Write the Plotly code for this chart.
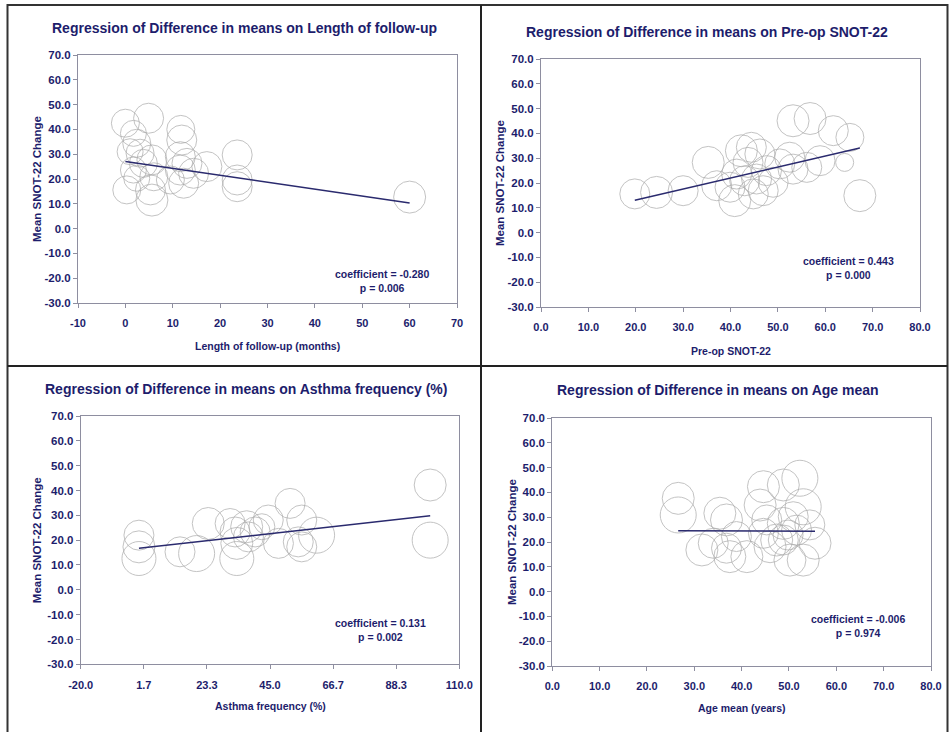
import plotly.graph_objects as go

W, H = 949, 732

# ---------------- data ----------------
# Panel 1: Length of follow-up (months)
fu_x = [0.0, 4.9, 1.7, 11.7, 11.9, 2.4, 1.0, 3.1, 5.6, 11.6, 13.0, 17.2, 23.6, 23.6, 23.6,
        1.7, 2.4, 0.3, 5.3, 5.6, 11.6, 12.3, 9.5, 6.0, 14.4, 3.8, 60.0]
fu_y = [42.5, 44.5, 38.4, 40.0, 35.7, 34.4, 31.0, 30.4, 27.7, 29.0, 26.3, 25.0, 29.7, 19.6, 16.9,
        23.6, 20.3, 15.6, 15.6, 11.5, 23.6, 18.3, 19.6, 20.9, 22.3, 26.3, 12.7]
fu_w = [28, 30, 26, 28, 30, 28, 26, 28, 30, 30, 30, 30, 30, 30, 30,
        26, 26, 28, 30, 32, 30, 30, 28, 28, 30, 28, 32]
fu_coef, fu_int, fu_p = -0.280, 27.1, "0.006"

# Panel 2: Pre-op SNOT-22
pre_x = [19.8, 24.4, 30.0, 35.3, 37.1, 40.9, 42.3, 44.4, 43.7, 41.3, 43.0, 45.5, 47.6, 46.9, 49.0,
         39.9, 53.2, 56.8, 61.7, 65.2, 52.5, 56.1, 58.9, 64.1, 53.2, 67.3, 44.8, 50.4, 46.2]
pre_y = [15.6, 16.2, 16.9, 28.3, 18.9, 12.9, 33.0, 34.4, 28.3, 23.6, 20.9, 21.6, 25.0, 16.9, 20.3,
         18.3, 45.1, 46.0, 41.1, 38.4, 30.4, 26.3, 29.0, 28.3, 25.6, 14.9, 15.6, 27.7, 31.7]
pre_w = [30, 32, 30, 32, 30, 32, 32, 30, 30, 30, 30, 30, 30, 30, 30,
         30, 32, 32, 30, 28, 30, 30, 30, 18, 30, 32, 30, 30, 30]
pre_coef, pre_int, pre_p = 0.443, 4.3, "0.000"

# Panel 3: Asthma frequency (%)
ast_x = [0.0, 0.0, 0.0, 14.1, 19.8, 23.8, 31.3, 33.0, 37.0, 33.6, 33.6, 39.9, 42.2, 44.4, 51.9,
         55.9, 47.9, 54.7, 55.9, 61.0, 100.0, 100.0, 37.6]
ast_y = [22.0, 17.3, 12.6, 15.3, 14.6, 26.7, 26.7, 23.3, 25.4, 18.7, 12.6, 23.3, 25.4, 28.1, 34.8,
         28.1, 18.7, 19.3, 17.3, 22.0, 42.2, 20.0, 21.3]
ast_w = [30, 32, 34, 30, 36, 32, 30, 30, 32, 32, 34, 30, 26, 30, 30,
         30, 30, 30, 30, 36, 32, 36, 30]
ast_coef, ast_int, ast_p = 0.131, 16.7, "0.002"

# Panel 4: Age mean (years)
age_x = [26.6, 26.6, 35.4, 36.8, 31.6, 36.8, 37.5, 41.1, 38.9, 44.6, 43.9, 48.8, 52.3, 53.0,
         45.3, 48.8, 47.4, 49.8, 51.6, 46.0, 50.2, 53.0, 55.5, 54.4, 48.8, 44.6, 34.0, 50.9]
age_y = [37.6, 30.9, 31.6, 28.9, 16.8, 17.5, 14.1, 14.1, 22.2, 42.3, 34.9, 43.0, 45.7, 34.2,
         28.9, 27.5, 20.8, 22.8, 24.8, 18.1, 12.7, 12.7, 19.5, 26.9, 20.8, 23.5, 19.5, 30.2]
age_w = [32, 36, 32, 32, 32, 30, 32, 32, 30, 32, 32, 32, 36, 36,
         30, 32, 32, 30, 30, 32, 32, 32, 32, 30, 30, 30, 30, 30]
age_coef, age_int, age_p = -0.006, 24.7, "0.974"

y_range = [-30, 70]

# ---------------- styling ----------------
NAVY = "#1d1d6c"
GRID = "#8e8ea0"
BUB = "#ababab"
FONT = "Liberation Sans, Arial, sans-serif"

def px2x(px):
    return px / W

def px2y(py):
    return 1 - py / H

panels = [
    dict(x=fu_x, y=fu_y, w=fu_w, coef=fu_coef, icpt=fu_int, p=fu_p,
         title="Regression of Difference in means on Length of follow-up",
         xtitle="Length of follow-up (months)",
         xr=[-10, 70], tickvals=list(range(-10, 71, 10)), fmt="{:.0f}",
         box=(78, 55, 457, 303), title_xy=(244, 28), ytitle_x=37,
         xtitle_y=346, ann_xy=(382, 281)),
    dict(x=pre_x, y=pre_y, w=pre_w, coef=pre_coef, icpt=pre_int, p=pre_p,
         title="Regression of Difference in means on Pre-op SNOT-22",
         xtitle="Pre-op SNOT-22",
         xr=[0, 80], tickvals=list(range(0, 81, 10)), fmt="{:.1f}",
         box=(541, 59, 920, 307), title_xy=(707, 32), ytitle_x=500,
         xtitle_y=351, ann_xy=(848, 268)),
    dict(x=ast_x, y=ast_y, w=ast_w, coef=ast_coef, icpt=ast_int, p=ast_p,
         title="Regression of Difference in means on Asthma frequency (%)",
         xtitle="Asthma frequency (%)",
         xr=[-20, 110], tickvals=[-20 + k * 130 / 6 for k in range(7)], fmt="{:.1f}",
         box=(80.7, 416, 459.3, 664.3), title_xy=(246, 389), ytitle_x=37,
         xtitle_y=706, ann_xy=(380, 630)),
    dict(x=age_x, y=age_y, w=age_w, coef=age_coef, icpt=age_int, p=age_p,
         title="Regression of Difference in means on Age mean",
         xtitle="Age mean (years)",
         xr=[0, 80], tickvals=list(range(0, 81, 10)), fmt="{:.1f}",
         box=(552.3, 418, 931, 666), title_xy=(718, 390), ytitle_x=512,
         xtitle_y=708, ann_xy=(858, 626)),
]

fig = go.Figure()
annotations = []
layout_axes = {}

for i, pn in enumerate(panels, start=1):
    xa = "x" if i == 1 else f"x{i}"
    ya = "y" if i == 1 else f"y{i}"
    x0, y0, x1, y1 = pn["box"]
    fig.add_trace(go.Scatter(
        x=pn["x"], y=pn["y"], mode="markers", xaxis=xa, yaxis=ya,
        marker=dict(size=pn["w"], sizemode="diameter", color="rgba(0,0,0,0)",
                    line=dict(color=BUB, width=1)),
        hoverinfo="x+y", showlegend=False))
    xmin, xmax = min(pn["x"]), max(pn["x"])
    fig.add_trace(go.Scatter(
        x=[xmin, xmax], y=[pn["icpt"] + pn["coef"] * xmin, pn["icpt"] + pn["coef"] * xmax],
        mode="lines", xaxis=xa, yaxis=ya, line=dict(color="#2a2a6e", width=1.5),
        hoverinfo="skip", showlegend=False))

    axis_common = dict(showgrid=False, zeroline=False, showline=True, linecolor=GRID,
                       linewidth=1, mirror=True, ticks="outside", ticklen=4,
                       tickcolor=GRID, tickwidth=1, automargin=False)
    layout_axes["xaxis" if i == 1 else f"xaxis{i}"] = dict(
        axis_common, domain=[px2x(x0), px2x(x1)], range=pn["xr"], anchor=ya,
        tickvals=pn["tickvals"], ticktext=[pn["fmt"].format(v) for v in pn["tickvals"]],
        tickfont=dict(family=FONT, size=11, color=NAVY, weight="bold"), ticklabelstandoff=6)
    layout_axes["yaxis" if i == 1 else f"yaxis{i}"] = dict(
        axis_common, domain=[px2y(y1), px2y(y0)], range=y_range, anchor=xa,
        tickvals=list(range(-30, 71, 10)),
        ticktext=[f"{v:.1f}" for v in range(-30, 71, 10)],
        tickfont=dict(family=FONT, size=11.5, color=NAVY, weight="bold"))

    annotations.append(dict(text=f"<b>{pn['title']}</b>", xref="paper", yref="paper",
                            x=px2x(pn["title_xy"][0]), y=px2y(pn["title_xy"][1]),
                            xanchor="center", yanchor="middle", showarrow=False,
                            font=dict(family=FONT, size=14, color=NAVY)))
    annotations.append(dict(text=f"<b>{pn['xtitle']}</b>", xref="paper", yref="paper",
                            x=px2x((x0 + x1) / 2), y=px2y(pn["xtitle_y"]),
                            xanchor="center", yanchor="middle", showarrow=False,
                            font=dict(family=FONT, size=10.5, color=NAVY)))
    annotations.append(dict(text="<b>Mean SNOT-22 Change</b>", xref="paper", yref="paper",
                            x=px2x(pn["ytitle_x"]), y=px2y((y0 + y1) / 2), textangle=-90,
                            xanchor="center", yanchor="middle", showarrow=False,
                            font=dict(family=FONT, size=11.5, color=NAVY)))
    annotations.append(dict(text=f"<b>coefficient = {pn['coef']:.3f}<br>p = {pn['p']}</b>",
                            xref="paper", yref="paper",
                            x=px2x(pn["ann_xy"][0]), y=px2y(pn["ann_xy"][1]),
                            xanchor="center", yanchor="middle", showarrow=False, align="center",
                            font=dict(family=FONT, size=10.5, color=NAVY)))

shapes = [
    dict(type="rect", xref="paper", yref="paper", x0=px2x(7.5), x1=px2x(947.5),
         y0=px2y(740), y1=px2y(5), line=dict(color="#333333", width=2)),
    dict(type="line", xref="paper", yref="paper", x0=px2x(481), x1=px2x(481),
         y0=px2y(740), y1=px2y(5), line=dict(color="#222222", width=2)),
    dict(type="line", xref="paper", yref="paper", x0=px2x(7.5), x1=px2x(947.5),
         y0=px2y(366), y1=px2y(366), line=dict(color="#222222", width=2)),
]

fig.update_layout(width=W, height=H, margin=dict(l=0, r=0, t=0, b=0, autoexpand=False),
                  paper_bgcolor="white", plot_bgcolor="white",
                  annotations=annotations, shapes=shapes, **layout_axes)

fig.write_html("out.html", config={"displayModeBar": False},
               post_script="document.body.style.margin='0';"
                           "document.body.style.overflow='hidden';")
